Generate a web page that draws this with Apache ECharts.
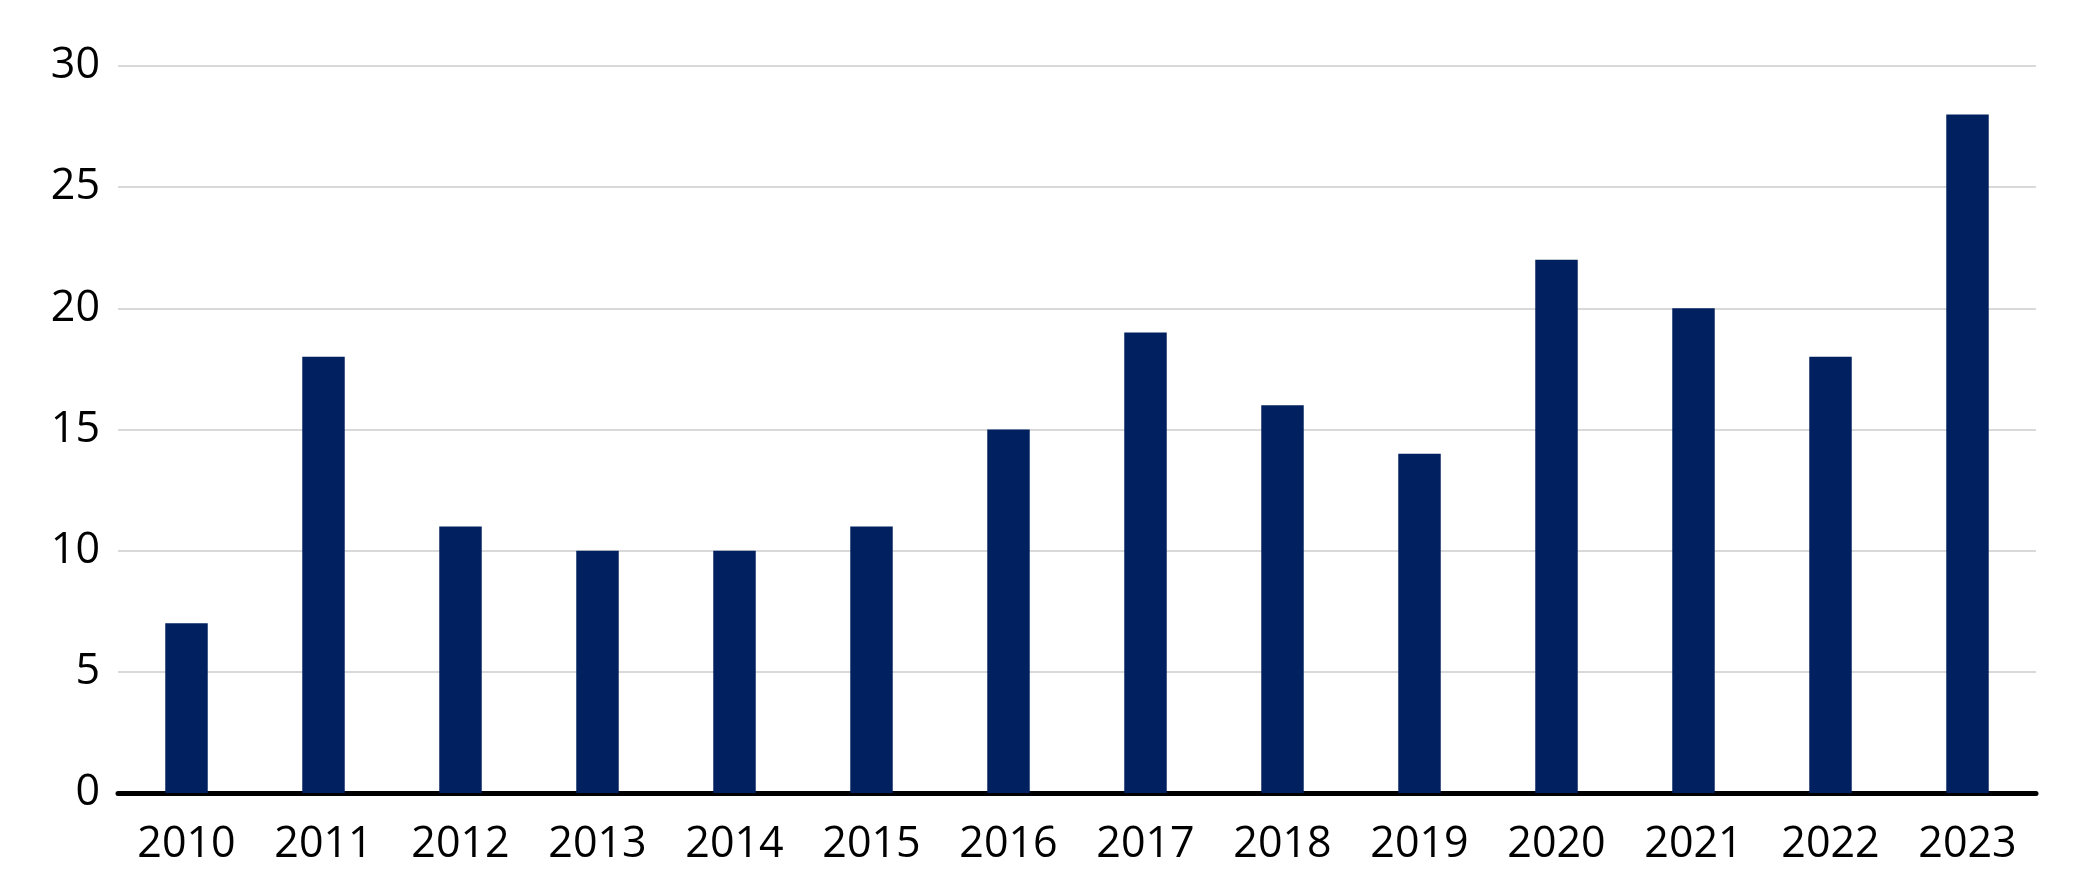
<!DOCTYPE html>
<html>
<head>
<meta charset="utf-8">
<script src="https://cdn.jsdelivr.net/npm/echarts@6/dist/echarts.min.js"></script>
<style>
  html, body { margin: 0; padding: 0; background: #fff; }
  #chart { width: 2084px; height: 890px; }
</style>
</head>
<body>
<div id="chart"></div>
<script>
var years = ['2010', '2011', '2012', '2013', '2014', '2015', '2016', '2017', '2018', '2019', '2020', '2021', '2022', '2023']
var counts = [7, 18, 11, 10, 10, 11, 15, 19, 16, 14, 22, 20, 18, 28]

var chart = echarts.init(document.getElementById('chart'))

var option = {
  animation: false,
  grid: {
    left: 118,
    right: 48,
    top: 66,
    bottom: 97
  },
  xAxis: {
    type: 'category',
    data: years,
    axisTick: { show: false },
    axisLine: {
      lineStyle: { color: '#000', width: 5 }
    },
    axisLabel: {
      color: '#000',
      fontFamily: 'Open Sans',
      fontSize: 43,
      margin: 30
    }
  },
  yAxis: {
    type: 'value',
    min: 0,
    max: 30,
    interval: 5,
    axisLine: { show: false },
    axisTick: { show: false },
    axisLabel: {
      color: '#000',
      fontFamily: 'Open Sans',
      fontSize: 43,
      margin: 18
    },
    splitLine: {
      lineStyle: { color: '#d9d9d9', width: 2 }
    }
  },
  series: [{
    type: 'bar',
    data: counts,
    barWidth: '31%',
    itemStyle: { color: '#002060' }
  }]
}

chart.setOption(option)
</script>
</body>
</html>
